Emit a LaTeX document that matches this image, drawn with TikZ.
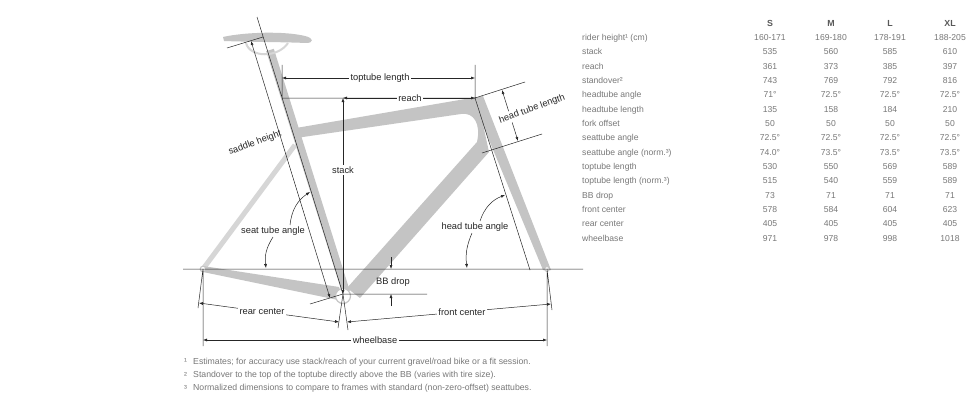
\documentclass[tikz,border=0pt]{standalone}
\usepackage{fontspec}
\setmainfont{Liberation Sans}
\usetikzlibrary{arrows.meta}
\definecolor{framegray}{gray}{0.77}
\definecolor{staygray}{gray}{0.84}
\definecolor{tabgray}{gray}{0.47}
\definecolor{inkgray}{gray}{0.15}

\begin{document}
\begin{tikzpicture}[x=1pt,y=-1pt,
	dim/.style={draw=inkgray,line width=0.5pt},
	dimarrow/.style={dim,{Latex[length=4pt,width=3pt]}-{Latex[length=4pt,width=3pt]}},
	onearrow/.style={dim,-{Latex[length=4pt,width=3pt]}},
	lbl/.style={fill=white,inner sep=1.5pt,text=inkgray,font=\fontsize{9.3}{11}\selectfont},
	freelbl/.style={lbl,fill=none},
	tab/.style={text=tabgray,font=\fontsize{8.6}{10}\selectfont,inner sep=0pt,text height=6.2pt,text depth=1.8pt},
	tabhead/.style={tab,text=black!65,font=\fontsize{8.8}{10}\selectfont\bfseries},
	note/.style={text=tabgray,font=\fontsize{8.7}{10}\selectfont,anchor=west,inner sep=0pt}]
\useasboundingbox[fill=white] (0,0) rectangle (980,412);

\coordinate (rax) at (203,269);
\coordinate (fax) at (547,269);
\coordinate (bb) at (343,294);
\coordinate (stTop) at (257,17);
\coordinate (ssTop) at (295,145);
\coordinate (htT) at (475,98);
\coordinate (htG) at (530,270);

% frame
\draw[staygray,line width=5pt] (rax) -- (ssTop);
\fill[framegray] (203,266) -- (339,287) -- (343,301) -- (203,272) -- cycle;
\draw[framegray,line width=8pt] (270,50) -- (346,292);
\fill[framegray] (296,128) -- (477,97) -- (489,152) -- (360,298) -- (347,288) -- (477,142)
	.. controls (481,124) and (474,112) .. (461,114) -- (296,138) -- cycle;
\fill[framegray] (472,99) -- (483,96) -- (551,270) -- (543,270) -- cycle;
\fill[framegray] (223,37) .. controls (245,32) and (285,31) .. (305,36)
	.. controls (314,38) and (314,43) .. (306,43) .. controls (285,42) and (250,42) .. (224,41) -- cycle;
\draw[staygray,line width=2pt] (246,43) .. controls (250,58) and (278,58) .. (288,43);
\draw[framegray,fill=white,line width=1.2pt] (343,296) circle (7.5);
\draw[framegray,fill=white,line width=1pt] (rax) circle (2.8) (fax) circle (2.4);

% reference lines
\coordinate (g1) at (183,269);
\coordinate (g2) at (583,269);
\coordinate (ttL) at (282,98);
\coordinate (ttLu) at (282,65);
\coordinate (ttRu) at (475,65);
\coordinate (stk) at (343,98);
\coordinate (sadTop) at (251,41);
\coordinate (sadBot) at (330,298);
\coordinate (sadL) at (227,48);
\coordinate (sadR) at (263,37);
\coordinate (bbL) at (310,304);
\coordinate (bbR) at (427,294);
\coordinate (htTt) at (525,82);
\coordinate (htBl) at (482,153);
\coordinate (htBr) at (542,134);
\coordinate (hta1) at (502,90);
\coordinate (hta2) at (518,141);
\draw[dim] (g1) -- (g2) (stTop) -- (bb) (htT) -- (htG)
	(sadL) -- (sadR) (bb) -- (bbL) (bb) -- (bbR)
	(ttL) -- (ttLu) (htT) -- (ttRu) (ttL) -- (htT)
	(htT) -- (htTt) (htBl) -- (htBr);
\draw[dimarrow] (sadTop) -- (sadBot);
\draw[dimarrow] (282,78) -- (475,78);
\draw[dimarrow] (stk) -- (htT);
\draw[dimarrow] (bb) -- (stk);
\draw[dimarrow] (hta1) -- (hta2);
\draw[onearrow] (391,257) -- (391,269);
\draw[onearrow] (391,306) -- (391,294);

% rear center, front center, wheelbase
\coordinate (rcL) at (198,308);
\coordinate (rcR) at (338,328);
\coordinate (fcL) at (348,330);
\coordinate (fcR) at (552,310);
\coordinate (wbL) at (203,346);
\coordinate (wbR) at (547,346);
\draw[dim] (rax) -- (rcL) (bb) -- (rcR) (bb) -- (fcL) (fax) -- (fcR) (rax) -- (wbL) (fax) -- (wbR);
\draw[dimarrow] (199,303) -- (339,322);
\draw[dimarrow] (347,322) -- (551,304);
\draw[dimarrow] (203,340) -- (547,340);

% labels
\node[lbl] (tl) at (380,78) {toptube length};
\node[lbl] (rc) at (410,98) {reach};
\node[lbl] (sk) at (343,170) {stack};
\node[freelbl,rotate=20] (sh) at (255,143) {saddle height};
\node[lbl,rotate=20] (hl) at (532,109) {head tube length};
\node[lbl] (sta) at (273,231) {seat tube angle};
\node[lbl] (hta) at (475,227) {head tube angle};
\node[freelbl] (bd) at (393,282) {BB drop};
\node[lbl] (rcn) at (262,312) {rear center};
\node[lbl] (fcn) at (462,312) {front center};
\node[lbl] (wb) at (375,340) {wheelbase};

\coordinate (staT) at (310,192);
\coordinate (staB) at (266,268);
\coordinate (htaT) at (505,195);
\coordinate (htaB) at (467,268);
\draw[onearrow] (sta.north) ++(17,0) to[bend left=25] (staT);
\draw[onearrow] (sta.south) to[bend right=20] (staB);
\draw[onearrow] (hta.north) ++(5,0) to[bend left=25] (htaT);
\draw[onearrow] (hta.south) ++(-3,0) to[bend right=15] (htaB);

% geometry table
\foreach \sz/\x in {S/770,M/831,L/890,XL/950}
	\node[tabhead] (h\sz) at (\x,24) {\sz};
\foreach \name/\s/\m/\l/\xl [count=\i] in {
	rider height¹ (cm)/160-171/169-180/178-191/188-205,
	stack/535/560/585/610,
	reach/361/373/385/397,
	standover²/743/769/792/816,
	headtube angle/71°/72.5°/72.5°/72.5°,
	headtube length/135/158/184/210,
	fork offset/50/50/50/50,
	seattube angle/72.5°/72.5°/72.5°/72.5°,
	seattube angle (norm.³)/74.0°/73.5°/73.5°/73.5°,
	toptube length/530/550/569/589,
	toptube length (norm.³)/515/540/559/589,
	BB drop/73/71/71/71,
	front center/578/584/604/623,
	rear center/405/405/405/405,
	wheelbase/971/978/998/1018}
{
	\node[tab,anchor=west] (row\i) at (582,{24+14.33*\i}) {\name};
	\node[tab] (s\i) at (770,{24+14.33*\i}) {\s};
	\node[tab] (m\i) at (831,{24+14.33*\i}) {\m};
	\node[tab] (l\i) at (890,{24+14.33*\i}) {\l};
	\node[tab] (xl\i) at (950,{24+14.33*\i}) {\xl};
}

% footnotes
\foreach \mk/\txt [count=\i] in {
	¹/{Estimates; for accuracy use stack/reach of your current gravel/road bike or a fit session.},
	²/{Standover to the top of the toptube directly above the BB (varies with tire size).},
	³/{Normalized dimensions to compare to frames with standard (non-zero-offset) seattubes.}}
{
	\node[note] (mk\i) at (184,{349+13*\i}) {\mk};
	\node[note] (fn\i) at (193,{349+13*\i}) {\txt};
}
\end{tikzpicture}
\end{document}
